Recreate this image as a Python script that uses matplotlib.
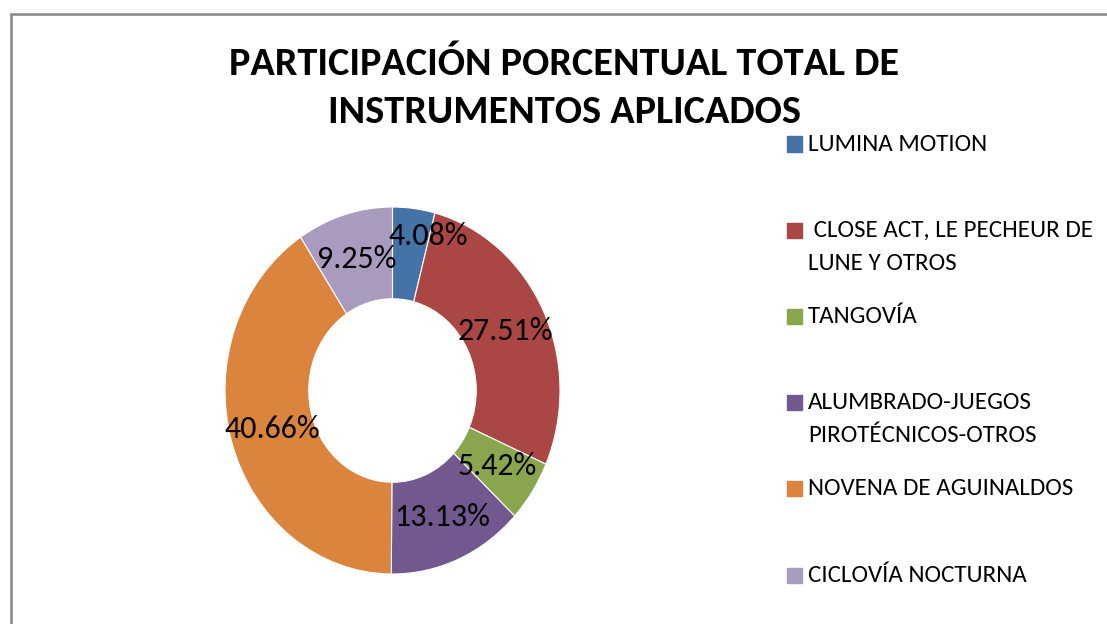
import matplotlib
matplotlib.use("Agg")
import matplotlib.pyplot as plt
from matplotlib.patches import Rectangle

# ----- data -----
categories = ["LUMINA MOTION",
              " CLOSE ACT, LE PECHEUR DE\nLUNE Y OTROS",
              "TANGOVÍA",
              "ALUMBRADO-JUEGOS\nPIROTÉCNICOS-OTROS",
              "NOVENA DE AGUINALDOS",
              "CICLOVÍA NOCTURNA"]
values = [4.08, 27.51, 5.42, 13.13, 40.66, 9.25]
colors = ["#4572A7", "#AA4643", "#89A54E", "#71588F", "#DB843D", "#A99BBD"]
title_lines = ["PARTICIPACIÓN PORCENTUAL TOTAL DE", "INSTRUMENTOS APLICADOS"]

plt.rcParams["font.family"] = ["Carlito", "DejaVu Sans"]

W, H = 1107, 624
fig = plt.figure(figsize=(W / 100, H / 100), dpi=100)


def fx(x):
    return x / W


def fy(y):
    return 1 - y / H


# chart area border (only left / top visible, the rest runs off the canvas)
fig.patches.append(Rectangle((fx(10.5), fy(700)), fx(1300), (700 - 13.5) / H,
                             transform=fig.transFigure, fill=False,
                             edgecolor="#8c8c8c", lw=1.9))

# ---- donut ----
ax = fig.add_axes([fx(225), fy(574), 335 / W, 367 / H])
wedges, texts = ax.pie(
    values, colors=colors, startangle=90, counterclock=False,
    labels=[f"{v:.2f}%" for v in values], labeldistance=0.75,
    wedgeprops=dict(width=0.5, edgecolor="white", linewidth=0.8),
    textprops=dict(fontsize=23, color="black"))
for t in texts:
    t.set_ha("center")
    t.set_va("center")
# excel pushes the small first label up/right so it doesn't clash
x0, y0 = texts[0].get_position()
texts[0].set_position((x0 + 0.12, y0 + 0.1))
ax.set_aspect("auto")
ax.set_xlim(-1, 1)
ax.set_ylim(-1, 1)

# ---- title ----
for i, line in enumerate(title_lines):
    fig.text(fx(564), fy(64 + 48 * i), line, ha="center", va="center",
             fontsize=29, fontweight="bold")

# ---- legend ----
for i, (lab, c) in enumerate(zip(categories, colors)):
    yc = 144 + 86.2 * i
    fig.patches.append(Rectangle((fx(787), fy(yc + 7.5)), 15 / W, 15 / H,
                                 transform=fig.transFigure, color=c))
    for j, part in enumerate(lab.split("\n")):
        fig.text(fx(808), fy(yc + 33 * j), part, ha="left", va="center",
                 fontsize=18)

fig.savefig("out.png", dpi=100)
